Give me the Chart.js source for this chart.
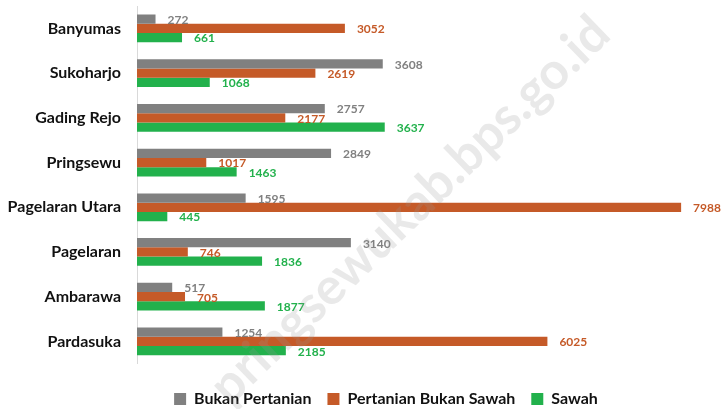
<!DOCTYPE html>
<html>
<head>
<meta charset="utf-8">
<script src="https://cdn.jsdelivr.net/npm/chart.js@4"></script>
<style>
  html, body { margin: 0; padding: 0; background: #fff; }
  #wrap { width: 722px; height: 409px; }
</style>
</head>
<body>
<div id="wrap"><canvas id="chart" width="722" height="409"></canvas></div>
<script>
// kecamatan
const categories = ['Banyumas', 'Sukoharjo', 'Gading Rejo', 'Pringsewu', 'Pagelaran Utara', 'Pagelaran', 'Ambarawa', 'Pardasuka'];
const bukanPertanian = [272, 3608, 2757, 2849, 1595, 3140, 517, 1254];
const pertanianBukanSawah = [3052, 2619, 2177, 1017, 7988, 746, 705, 6025];
const sawah = [661, 1068, 3637, 1463, 445, 1836, 1877, 2185];
const seriesNames = ['Bukan Pertanian', 'Pertanian Bukan Sawah', 'Sawah'];
const watermark = 'pringsewukab.bps.go.id';

const colors = ['#808080', '#c55a28', '#22b14c'];
const FONT = 'Lato, "Open Sans", sans-serif';

// value labels at the end of each bar
const valueLabels = {
  id: 'valueLabels',
  afterDatasetsDraw(chart) {
    const ctx = chart.ctx;
    ctx.save();
    ctx.font = 'bold 12px ' + FONT;
    ctx.textBaseline = 'middle';
    ctx.textAlign = 'left';
    chart.data.datasets.forEach((ds, i) => {
      const meta = chart.getDatasetMeta(i);
      ctx.fillStyle = colors[i];
      meta.data.forEach((bar, j) => {
        ctx.fillText(ds.data[j], bar.x + 12, bar.y + 1);
      });
    });
    ctx.restore();
  }
};

// legend in the original sits a bit right of centre
const shiftLegend = {
  id: 'shiftLegend',
  afterLayout(chart) {
    if (chart.legend) chart.legend.left += 50;
  }
};

const watermarkPlugin = {
  id: 'watermark',
  afterDraw(chart) {
    const ctx = chart.ctx;
    ctx.save();
    ctx.translate(410, 210);
    ctx.rotate(-44 * Math.PI / 180);
    ctx.font = 'bold 51px ' + FONT;
    ctx.fillStyle = 'rgba(150,150,150,0.21)';
    ctx.textAlign = 'center';
    ctx.textBaseline = 'middle';
    ctx.fillText(watermark, 0, 0);
    ctx.restore();
  }
};

const config = {
  type: 'bar',
  data: {
    labels: categories,
    datasets: [
      { label: seriesNames[0], data: bukanPertanian, backgroundColor: colors[0] },
      { label: seriesNames[1], data: pertanianBukanSawah, backgroundColor: colors[1] },
      { label: seriesNames[2], data: sawah, backgroundColor: colors[2] }
    ]
  },
  options: {
    indexAxis: 'y',
    responsive: false,
    animation: false,
    layout: { padding: { left: 6, right: 6, top: 6, bottom: -8 } },
    datasets: {
      bar: { categoryPercentage: 0.62, barPercentage: 1.0 }
    },
    scales: {
      x: { display: false, min: 0, max: 8500 },
      y: {
        grid: { display: false, drawTicks: false },
        border: { display: true, color: '#d9d9d9', width: 1 },
        ticks: { color: '#111', padding: 16, font: { family: FONT, size: 16, weight: 'bold' } },
        afterFit(scale) {
          scale.width = 131;
          scale.paddingTop = 0;
          scale.paddingBottom = 0;
        }
      }
    },
    plugins: {
      legend: {
        position: 'bottom',
        title: { display: true, text: '', font: { size: 1 }, padding: { top: 0, bottom: 10 } },
        labels: {
          color: '#111',
          boxWidth: 12,
          boxHeight: 12,
          padding: 16,
          font: { family: FONT, size: 16, weight: 'bold' }
        }
      },
      tooltip: { enabled: false }
    }
  },
  plugins: [valueLabels, shiftLegend, watermarkPlugin]
};

let ctx1 = document.getElementById('chart').getContext('2d');
window.myBar = new Chart(ctx1, config);
</script>
</body>
</html>
